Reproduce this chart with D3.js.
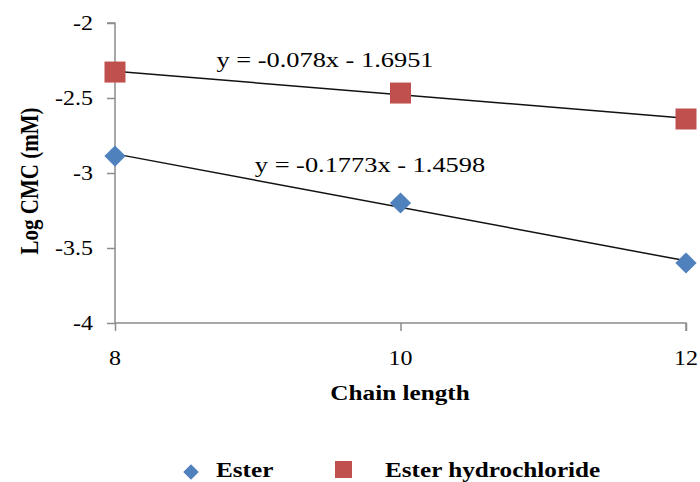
<!DOCTYPE html>
<html lang="en">
    <head>
        <meta charset="utf-8" />
        <title>Log CMC vs chain length</title>
        <script type="text/javascript" src="https://cdn.jsdelivr.net/npm/d3@7/dist/d3.min.js"></script>
        <style>
            body { margin: 0; background: #fff; }
        </style>
    </head>
    <body>
        <svg width="700" height="482"></svg>

        <script type="text/javascript">
            var chainLength = [8, 10, 12];
            var ester = [-2.887, -3.2, -3.6];
            var esterHcl = [-2.327, -2.467, -2.64];
            var yTicks = [-2, -2.5, -3, -3.5, -4];
            var xTicks = [8, 10, 12];
            var equations = ['y = -0.078x - 1.6951', 'y = -0.1773x - 1.4598'];
            var seriesNames = ['Ester', 'Ester hydrochloride'];

            var svg = d3.select('svg');
            var axisColor = '#8c8c8c';
            var blue = '#4f81bd', red = '#c0504d';
            var serif = '"Liberation Serif", "Times New Roman", serif';
            var stretch = 1.2; // the original text is a bit wide

            var x = d3.scaleLinear().domain([8, 12]).range([115, 686]);
            var y = d3.scaleLinear().domain([-4, -2]).range([323, 23]);

            // little helper for the wide serif text
            function label(px, py, str, size, bold, anchor, rot) {
                var tr = 'translate(' + px + ',' + py + ')' + (rot ? ' rotate(' + rot + ')' : '');
                return svg.append('text')
                    .attr('transform', tr + ' scale(' + (rot ? '1,' + stretch : stretch + ',1') + ')')
                    .attr('text-anchor', anchor || 'start')
                    .style('font-family', serif)
                    .style('font-size', size + 'px')
                    .style('font-weight', bold ? 'bold' : 'normal')
                    .attr('fill', '#000')
                    .text(str);
            }

            // axes (lines and ticks from d3, labels drawn below)
            var yAxis = svg.append('g')
                .attr('transform', 'translate(' + x(8) + ',0)')
                .call(d3.axisLeft(y).tickValues(yTicks).tickSize(8).tickFormat(''));
            var xAxis = svg.append('g')
                .attr('transform', 'translate(0,' + y(-4) + ')')
                .call(d3.axisBottom(x).tickValues(xTicks).tickSize(8).tickFormat(''));
            [xAxis, yAxis].forEach(function(a) {
                a.select('.domain').attr('stroke', axisColor).attr('stroke-width', 1.5);
                a.selectAll('.tick line').attr('stroke', axisColor).attr('stroke-width', 1.5);
            });
            yAxis.select('.domain').attr('d', 'M-8,' + y(-2) + 'H0V' + y(-4));
            xAxis.select('.domain').attr('d', 'M' + x(8) + ',0H' + x(12) + 'V8');

            yTicks.forEach(function(t) {
                label(x(8) - 22, y(t) + 7, String(t), 20, false, 'end');
            });
            xTicks.forEach(function(t) {
                label(x(t), 365, String(t), 20, false, 'middle');
            });

            // trend lines from least squares fit
            function fit(xs, ys) {
                var mx = d3.mean(xs), my = d3.mean(ys);
                var b = d3.sum(xs, function(v, i) { return (v - mx) * (ys[i] - my); }) /
                        d3.sum(xs, function(v) { return (v - mx) * (v - mx); });
                return function(v) { return my + b * (v - mx); };
            }
            [esterHcl, ester].forEach(function(ys) {
                var f = fit(chainLength, ys);
                svg.append('line')
                    .attr('x1', x(8)).attr('y1', y(f(8)))
                    .attr('x2', x(12)).attr('y2', y(f(12)))
                    .attr('stroke', '#111').attr('stroke-width', 1.5);
            });

            // markers
            var sq = 21;
            svg.selectAll('rect.hcl')
                .data(chainLength)
                .enter()
                .append('rect')
                .attr('class', 'hcl')
                .attr('x', function(d) { return x(d) - sq / 2; })
                .attr('y', function(d, i) { return y(esterHcl[i]) - sq / 2; })
                .attr('width', sq).attr('height', sq)
                .attr('fill', red);

            var diamond = d3.symbol().type(d3.symbolSquare).size(15 * 15);
            svg.selectAll('path.ester')
                .data(chainLength)
                .enter()
                .append('path')
                .attr('class', 'ester')
                .attr('d', diamond)
                .attr('transform', function(d, i) {
                    return 'translate(' + x(d) + ',' + y(ester[i]) + ') rotate(45)';
                })
                .attr('fill', blue);

            // equations
            label(325, 67, equations[0], 22, false, 'middle');
            label(370, 172, equations[1], 22, false, 'middle');

            // axis titles
            label(400, 400, 'Chain length', 21, true, 'middle');
            label(38, 181, 'Log CMC (mM)', 21, true, 'middle', -90);

            // legend
            svg.append('path').attr('d', d3.symbol().type(d3.symbolSquare).size(11 * 11))
                .attr('transform', 'translate(191,472) rotate(45)').attr('fill', blue);
            label(216, 477, seriesNames[0], 21, true);
            svg.append('rect').attr('x', 335).attr('y', 461).attr('width', 17).attr('height', 17)
                .attr('fill', red);
            label(385, 477, seriesNames[1], 21, true);
        </script>
    </body>
</html>
